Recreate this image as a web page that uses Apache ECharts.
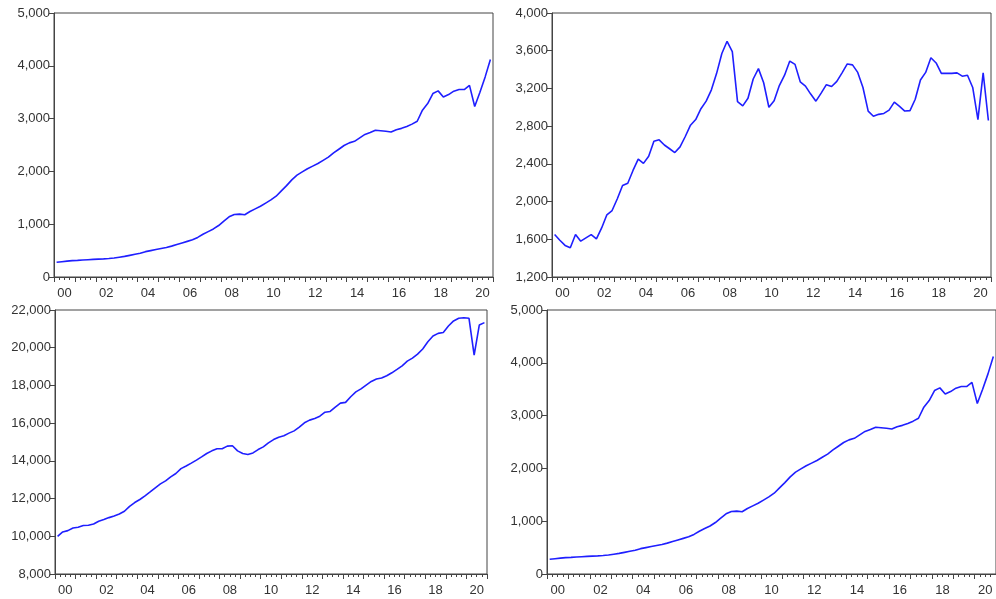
<!DOCTYPE html>
<html>
<head>
<meta charset="utf-8">
<script src="https://cdn.jsdelivr.net/npm/echarts@6/dist/echarts.min.js"></script>
<style>
  html, body { margin: 0; padding: 0; background: #fff; }
  #main { width: 996px; height: 599px; }
</style>
</head>
<body>
<div id="main"></div>
<script>
// year tick labels (2000..2020), one category per year
var years = ['00', '01', '02', '03', '04', '05', '06', '07', '08', '09', '10',
             '11', '12', '13', '14', '15', '16', '17', '18', '19', '20'];
var quarterNames = ['Q1', 'Q2', 'Q3', 'Q4'];

// quarterly series, 2000Q1 - 2020Q4
var seriesA = [280, 290, 300, 310, 315, 322, 328, 333, 338, 343, 350, 360,
  375, 390, 410, 430, 450, 480, 500, 520, 540, 560, 585, 615,
  645, 675, 705, 750, 810, 860, 910, 975, 1060, 1140, 1185, 1190,
  1180, 1240, 1290, 1340, 1400, 1460, 1530, 1630, 1730, 1840, 1930, 1990,
  2050, 2100, 2150, 2210, 2270, 2350, 2420, 2490, 2540, 2570, 2635, 2700,
  2735, 2780, 2770, 2760, 2745, 2790, 2815, 2850, 2895, 2950, 3160, 3285,
  3475, 3525, 3410, 3455, 3520, 3550, 3550, 3630, 3230, 3500, 3790, 4120];

var seriesB = [1650, 1590, 1535, 1510, 1650, 1580, 1615, 1650, 1605, 1720, 1860, 1905,
  2030, 2170, 2195, 2330, 2450, 2405, 2480, 2640, 2655, 2600, 2560, 2520,
  2580, 2690, 2810, 2870, 2985, 3065, 3185, 3360, 3570, 3700, 3590, 3060,
  3015, 3095, 3300, 3410, 3260, 3000, 3070, 3230, 3340, 3490, 3455, 3270,
  3225, 3140, 3065, 3150, 3240, 3220, 3275, 3365, 3460, 3450, 3370, 3210,
  2960, 2905, 2925, 2935, 2970, 3055, 3010, 2960, 2965, 3085, 3290, 3370,
  3525, 3470, 3360, 3360, 3360, 3365, 3330, 3340, 3210, 2870, 3365, 2860];

var seriesC = [10000, 10230, 10300, 10440, 10480, 10570, 10585, 10655, 10800, 10885, 10990, 11080,
  11185, 11330, 11590, 11790, 11950, 12140, 12350, 12570, 12780, 12940, 13150, 13330,
  13590, 13730, 13880, 14040, 14210, 14390, 14530, 14640, 14640, 14780, 14800, 14530,
  14390, 14340, 14420, 14600, 14740, 14955, 15130, 15255, 15330, 15470, 15590, 15790,
  16020, 16160, 16250, 16370, 16580, 16620, 16850, 17060, 17100, 17400, 17660, 17820,
  18020, 18210, 18340, 18390, 18510, 18670, 18850, 19040, 19290, 19450, 19660, 19930,
  20320, 20620, 20760, 20810, 21150, 21420, 21560, 21590, 21560, 19610, 21200, 21330];

var quarters = [];
years.forEach(function (y) {
  quarterNames.forEach(function (q) { quarters.push(y + q); });
});

var myChart = echarts.init(document.getElementById('main'));

var frame = '#444';
var textStyle = { color: '#333', fontSize: 13, fontFamily: 'Liberation Sans, Arial, sans-serif' };

var panels = [
  { left: 54,  top: 13,  width: 439, height: 264, data: seriesA, min: 0,    max: 5000,  step: 1000 },
  { left: 552, top: 13,  width: 439, height: 264, data: seriesB, min: 1200, max: 4000,  step: 400 },
  { left: 55,  top: 310, width: 432, height: 264, data: seriesC, min: 8000, max: 22000, step: 2000 },
  { left: 547, top: 310, width: 452, height: 264, data: seriesA, min: 0,    max: 5000,  step: 1000 }
];

var grid = [], xAxis = [], yAxis = [], series = [];
panels.forEach(function (p, k) {
  grid.push({
    left: p.left, top: p.top, width: p.width, height: p.height,
    show: true, borderColor: frame, borderWidth: 1, backgroundColor: '#fff'
  });
  // quarter ticks
  xAxis.push({
    gridIndex: k, type: 'category', data: quarters, boundaryGap: true,
    position: 'bottom', offset: 0,
    axisLine: { show: true, lineStyle: { color: frame, width: 1 } },
    axisTick: { show: true, interval: 0, length: 3, lineStyle: { color: frame } },
    axisLabel: { show: false },
    splitLine: { show: false }
  });
  // year ticks and labels
  xAxis.push({
    gridIndex: k, type: 'category', data: years, boundaryGap: true,
    position: 'bottom', offset: 0,
    axisLine: { show: false },
    axisTick: { show: true, interval: 0, length: 5, lineStyle: { color: frame } },
    axisLabel: Object.assign({ show: true, interval: 1, margin: 10 }, textStyle),
    splitLine: { show: false }
  });
  yAxis.push({
    gridIndex: k, type: 'value', min: p.min, max: p.max, interval: p.step,
    axisLine: { show: true, lineStyle: { color: frame, width: 1 } },
    axisTick: { show: true, length: 5, lineStyle: { color: frame } },
    axisLabel: Object.assign({
      margin: 4,
      formatter: function (v) { return v.toLocaleString('en-US'); }
    }, textStyle),
    splitLine: { show: false }
  });
  series.push({
    type: 'line', xAxisIndex: k * 2, yAxisIndex: k, data: p.data,
    showSymbol: false, symbol: 'none',
    lineStyle: { color: '#1f1fff', width: 1.6 },
    animation: false
  });
});

var option = {
  backgroundColor: '#fff',
  animation: false,
  grid: grid,
  xAxis: xAxis,
  yAxis: yAxis,
  series: series
};

myChart.setOption(option);
</script>
</body>
</html>
